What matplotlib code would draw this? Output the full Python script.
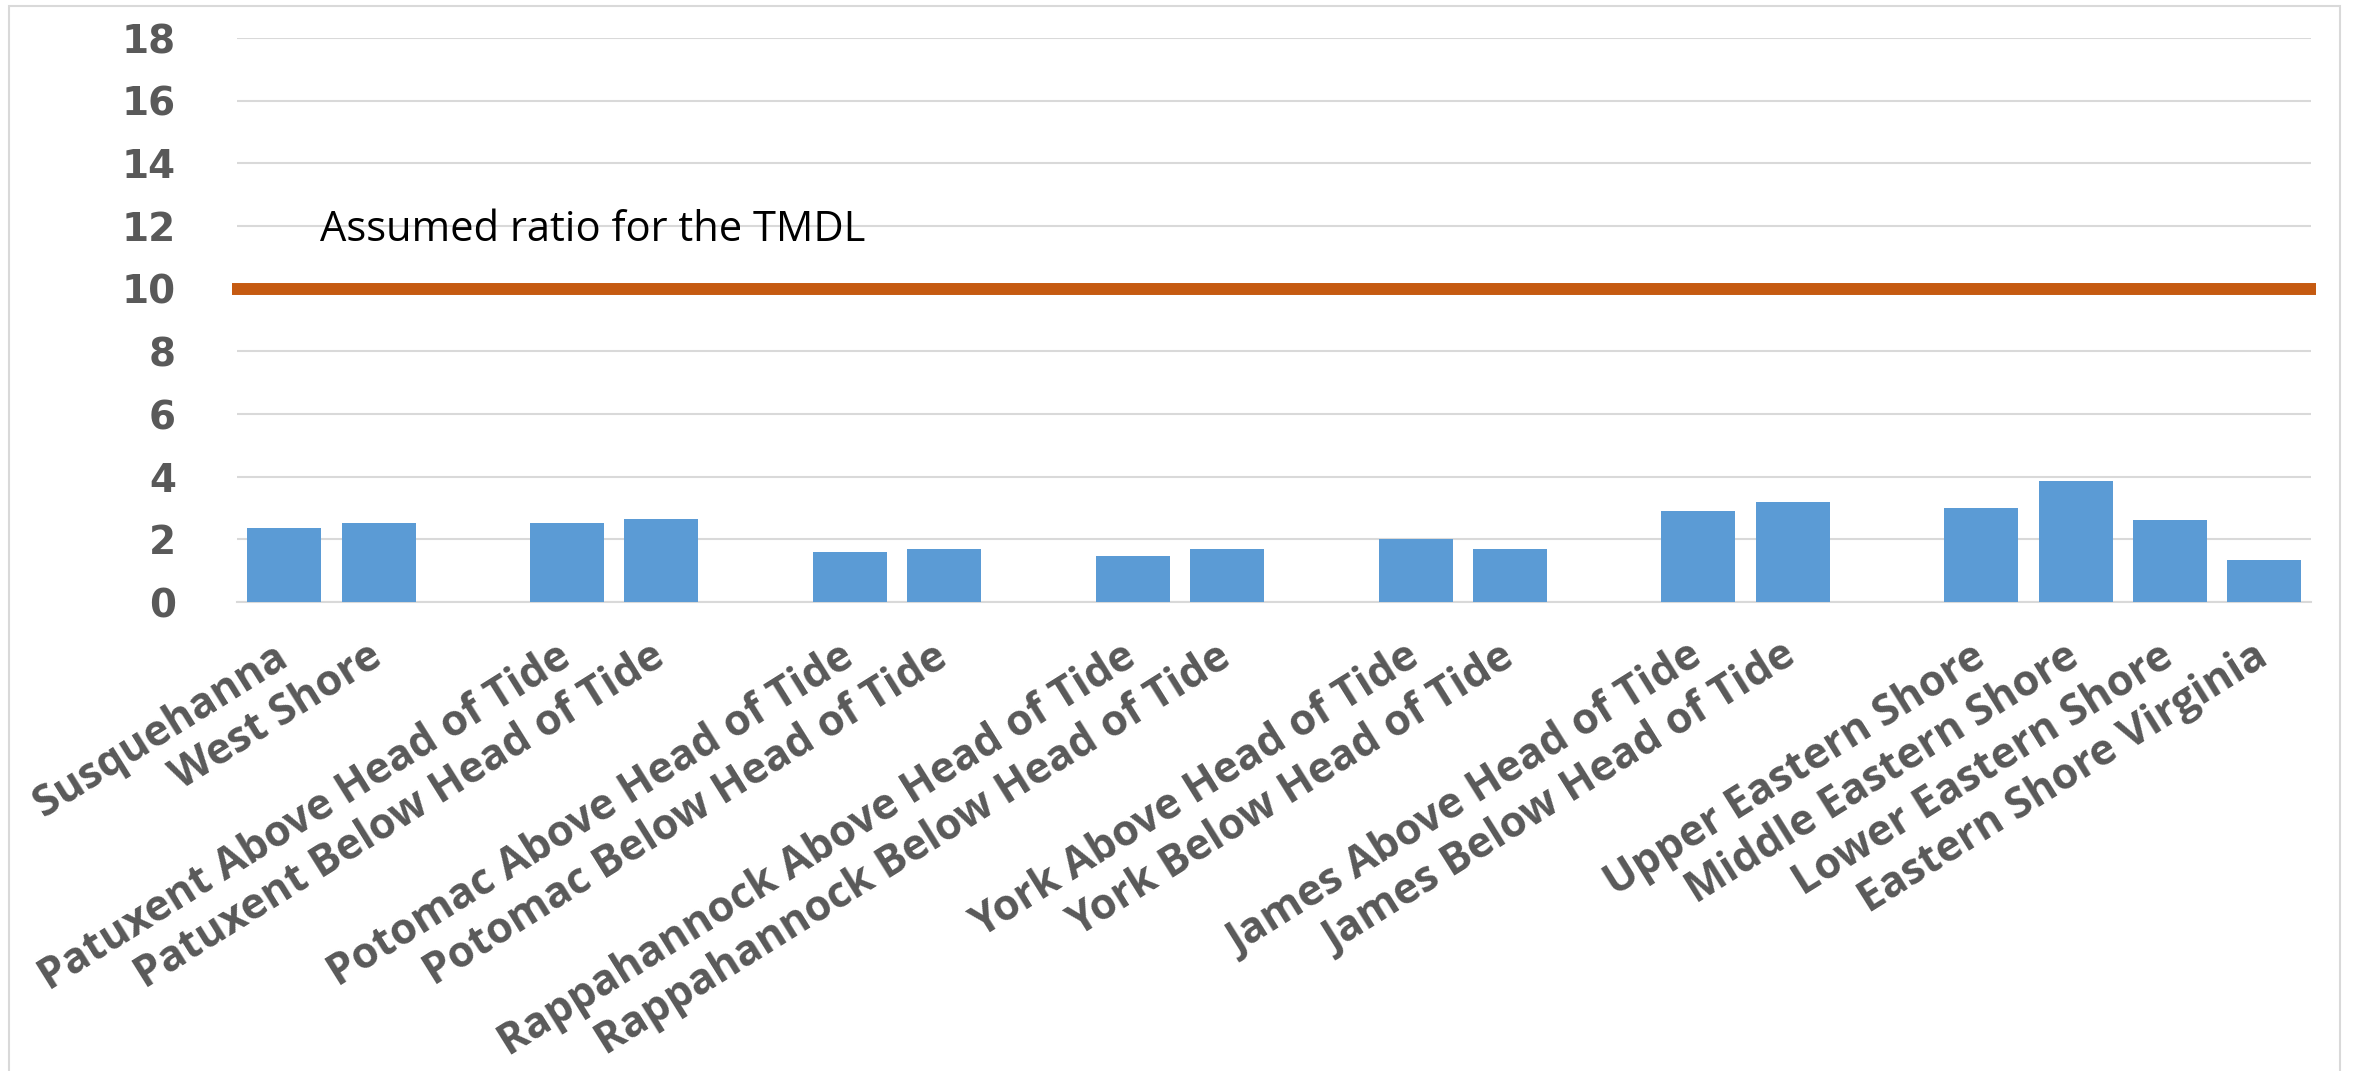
import matplotlib.pyplot as plt
from matplotlib.patches import Rectangle

# categories (empty strings are the gaps between the river basins)
categories = ['Susquehanna', 'West Shore', '',
              'Patuxent Above Head of Tide', 'Patuxent Below Head of Tide', '',
              'Potomac Above Head of Tide', 'Potomac Below Head of Tide', '',
              'Rappahannock Above Head of Tide', 'Rappahannock Below Head of Tide', '',
              'York Above Head of Tide', 'York Below Head of Tide', '',
              'James Above Head of Tide', 'James Below Head of Tide', '',
              'Upper Eastern Shore', 'Middle Eastern Shore', 'Lower Eastern Shore',
              'Eastern Shore Virginia']
ratios = [2.36, 2.52, None,
          2.52, 2.65, None,
          1.60, 1.68, None,
          1.48, 1.68, None,
          2.00, 1.68, None,
          2.91, 3.20, None,
          2.99, 3.87, 2.62, 1.35]
tmdl_ratio = 10
tmdl_label = 'Assumed ratio for the TMDL'
yticks = [0, 2, 4, 6, 8, 10, 12, 14, 16, 18]

grey = '#595959'

fig = plt.figure(figsize=(23.57, 10.71), dpi=100)
fig.patches.append(Rectangle((9 / 2357, -0.01), (2340 - 9) / 2357, 1 - 6 / 1071 + 0.01,
                             transform=fig.transFigure, fill=False,
                             edgecolor='#d9d9d9', linewidth=1.5))
ax = fig.add_axes([0.1006, 0.4379, 0.8800, 0.5266])

xs = [i for i, v in enumerate(ratios) if v is not None]
vals = [v for v in ratios if v is not None]
ax.bar(xs, vals, width=0.785, color='#5b9bd5', zorder=3)

ax.plot([-0.55, len(categories) - 0.45], [tmdl_ratio, tmdl_ratio],
        color='#c55a11', linewidth=8.6, solid_capstyle='butt',
        clip_on=False, zorder=4)
ax.text(0.38, 11.87, tmdl_label, fontsize=30, family='Open Sans',
        color='black', va='center', ha='left', zorder=5)

ax.set_xlim(-0.5, len(categories) - 0.5)
ax.set_ylim(0, 18)
ax.set_yticks(yticks)
ax.set_yticklabels([str(t) for t in yticks], fontsize=28, fontweight='bold',
                   color=grey, family='DejaVu Sans')
ax.tick_params(axis='y', length=0, pad=44)
ax.yaxis.grid(True, color='#d9d9d9', linewidth=1.5, zorder=0)

ax.set_xticks(xs)
ax.set_xticklabels([categories[i] for i in xs], rotation=32, ha='right',
                   va='center', rotation_mode='anchor', fontsize=31,
                   fontweight='bold', color=grey, family='Open Sans')
ax.tick_params(axis='x', length=0, pad=37)

for s in ['top', 'right', 'left']:
    ax.spines[s].set_visible(False)
ax.spines['bottom'].set_color('#d9d9d9')
ax.spines['bottom'].set_linewidth(1.5)

fig.savefig('out.png', dpi=100)
